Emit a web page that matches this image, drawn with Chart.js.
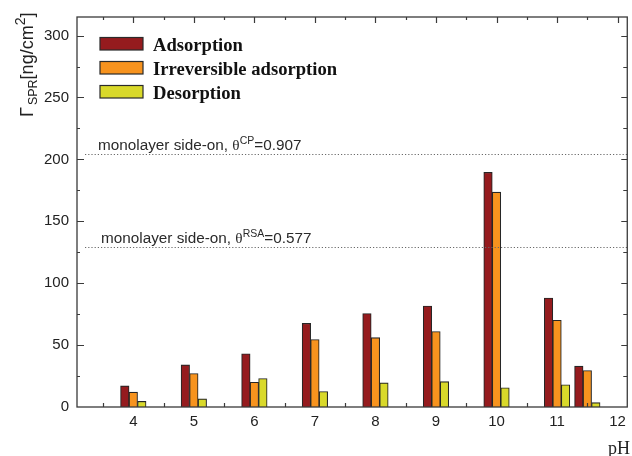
<!DOCTYPE html>
<html>
<head>
<meta charset="utf-8">
<script src="https://cdn.jsdelivr.net/npm/chart.js@4.4.0/dist/chart.umd.min.js"></script>
<style>
  html, body { margin: 0; padding: 0; background: #ffffff; }
  canvas { display: block; }
</style>
</head>
<body>
<canvas id="c" width="632" height="456"></canvas>
<script>
// Surface concentration measured by SPR at each pH
const phValues = [4, 5, 6, 7, 8, 9, 10, 11, 11.5];
const adsorption = [17, 34, 43, 67.5, 75.5, 81.5, 189.5, 88, 33];
const irreversibleAdsorption = [12, 27, 20, 54.5, 56, 61, 173.5, 70, 29.5];
const desorption = [4.5, 6.5, 23, 12.5, 19.5, 20.5, 15.5, 18, 3.5];
const seriesNames = ['Adsorption', 'Irreversible adsorption', 'Desorption'];

// Axis ticks
const xTickValues = [4, 5, 6, 7, 8, 9, 10, 11, 12];
const yTickValues = [0, 50, 100, 150, 200, 250, 300];

// Side-on monolayer reference levels
const monolayerLevels = [204, 129];
const monolayerSymbols = ['CP', 'RSA'];
const monolayerCoverages = ['0.907', '0.577'];

const SANS = '"Liberation Sans", Arial, sans-serif';
const SERIF = '"Liberation Serif", "Times New Roman", serif';
const AXIS_COLOR = '#3a3a3a';

function toPoints(values) {
  return values.map((v, i) => ({ x: phValues[i], y: v }));
}

// Draw a run of text pieces with individual fonts and baseline shifts
function drawRich(ctx, x, y, parts) {
  let cx = x;
  parts.forEach(p => {
    ctx.font = p.font;
    ctx.fillText(p.text, cx, y + (p.dy || 0));
    cx += ctx.measureText(p.text).width + (p.gap || 0);
  });
}

const framePlugin = {
  id: 'frame',
  afterDatasetsDraw(chart) {
    const ctx = chart.ctx;
    const { left, right, top, bottom } = chart.chartArea;
    const xs = chart.scales.x, ys = chart.scales.y;
    ctx.save();

    // Monolayer levels (dotted)
    ctx.strokeStyle = '#6a6a6a';
    ctx.lineWidth = 1.2;
    ctx.setLineDash([1.2, 2]);
    monolayerLevels.forEach(v => {
      const py = Math.round(ys.getPixelForValue(v)) + 0.5;
      ctx.beginPath();
      ctx.moveTo(left + 8, py);
      ctx.lineTo(right, py);
      ctx.stroke();
    });
    ctx.setLineDash([]);

    // Level captions
    ctx.fillStyle = '#2a2a2a';
    ctx.textBaseline = 'alphabetic';
    ctx.textAlign = 'left';
    monolayerLevels.forEach((v, i) => {
      const py = ys.getPixelForValue(v) - 4.5;
      drawRich(ctx, left + 21 + i * 3, py, [
        { text: 'monolayer side-on, ', font: '15.3px ' + SANS },
        { text: 'θ', font: '15.3px ' + SERIF },
        { text: monolayerSymbols[i], font: '10.5px ' + SANS, dy: -6 },
        { text: '=' + monolayerCoverages[i], font: '15.3px ' + SANS }
      ]);
    });

    // Frame
    ctx.strokeStyle = AXIS_COLOR;
    ctx.lineWidth = 1.3;
    ctx.strokeRect(left, top, right - left, bottom - top);

    // Tick marks, all pointing inward
    ctx.lineWidth = 1.2;
    ctx.beginPath();
    for (let v = 3.5; v <= 12; v += 0.5) {
      const px = Math.round(xs.getPixelForValue(v)) + 0.5;
      if (px <= left || px >= right) continue;
      const major = Number.isInteger(v);
      ctx.moveTo(px, top);
      ctx.lineTo(px, top + (major ? 6 : 3));
      if (!major) {
        ctx.moveTo(px, bottom);
        ctx.lineTo(px, bottom - 4);
      }
    }
    for (let v = 0; v <= 300; v += 25) {
      const py = Math.round(ys.getPixelForValue(v)) + 0.5;
      const major = v % 50 === 0;
      if (v === 0) continue;
      ctx.moveTo(left, py);
      ctx.lineTo(left + (major ? 7 : 3), py);
      ctx.moveTo(right, py);
      ctx.lineTo(right - (major ? 6 : 4), py);
    }
    ctx.stroke();

    // Legend
    chart.data.datasets.forEach((ds, i) => {
      const bx = left + 23, by = top + 20.5 + i * 24;
      ctx.fillStyle = ds.backgroundColor;
      ctx.fillRect(bx, by, 43, 12.5);
      ctx.strokeStyle = '#2a2a2a';
      ctx.lineWidth = 1.2;
      ctx.strokeRect(bx, by, 43, 12.5);
      ctx.fillStyle = '#111111';
      ctx.font = 'bold 18.6px ' + SERIF;
      ctx.fillText(ds.label, bx + 53, by + 13);
    });

    // Y axis title: Γ_SPR [ng/cm²]
    ctx.save();
    ctx.translate(33, 117);
    ctx.rotate(-Math.PI / 2);
    ctx.fillStyle = '#222222';
    drawRich(ctx, 0, 0, [
      { text: 'Γ', font: '18px ' + SANS, gap: 2 },
      { text: 'SPR', font: '12.5px ' + SANS, dy: 4 },
      { text: '[ng/cm', font: '18px ' + SANS },
      { text: '2', font: '14px ' + SANS, dy: -8 },
      { text: ']', font: '18px ' + SANS }
    ]);
    ctx.restore();

    // X axis title
    ctx.fillStyle = '#222222';
    ctx.font = '18px ' + SERIF;
    ctx.fillText('pH', 608, 454);

    ctx.restore();
  }
};

const borderColor = '#262626';

new Chart(document.getElementById('c'), {
  type: 'bar',
  data: {
    datasets: [
      { label: seriesNames[0], data: toPoints(adsorption), backgroundColor: '#951b1e' },
      { label: seriesNames[1], data: toPoints(irreversibleAdsorption), backgroundColor: '#f7931e' },
      { label: seriesNames[2], data: toPoints(desorption), backgroundColor: '#d9d92a' }
    ].map(d => Object.assign(d, {
      borderColor: borderColor,
      borderWidth: 1.1,
      barThickness: 8.5,
      grouped: true
    }))
  },
  options: {
    responsive: false,
    animation: false,
    layout: { padding: { left: 0, top: 13, right: 4, bottom: 0 } },
    plugins: {
      legend: { display: false },
      tooltip: { enabled: false }
    },
    scales: {
      x: {
        type: 'linear',
        offset: false,
        min: 3.07,
        max: 12.16,
        grid: { display: false, drawTicks: false },
        border: { display: false },
        afterBuildTicks: s => { s.ticks = xTickValues.map(v => ({ value: v })); },
        afterFit: s => { s.height = 49; },
        ticks: {
          padding: 6,
          color: '#222222',
          font: { family: SANS, size: 15 },
          callback: v => String(v)
        }
      },
      y: {
        min: 0,
        max: 315,
        grid: { display: false, drawTicks: false },
        border: { display: false },
        afterBuildTicks: s => { s.ticks = yTickValues.map(v => ({ value: v })); },
        afterFit: s => { s.width = 77; },
        ticks: {
          padding: 8,
          color: '#222222',
          font: { family: SANS, size: 15 },
          callback: v => String(v)
        }
      }
    }
  },
  plugins: [framePlugin]
});
</script>
</body>
</html>
